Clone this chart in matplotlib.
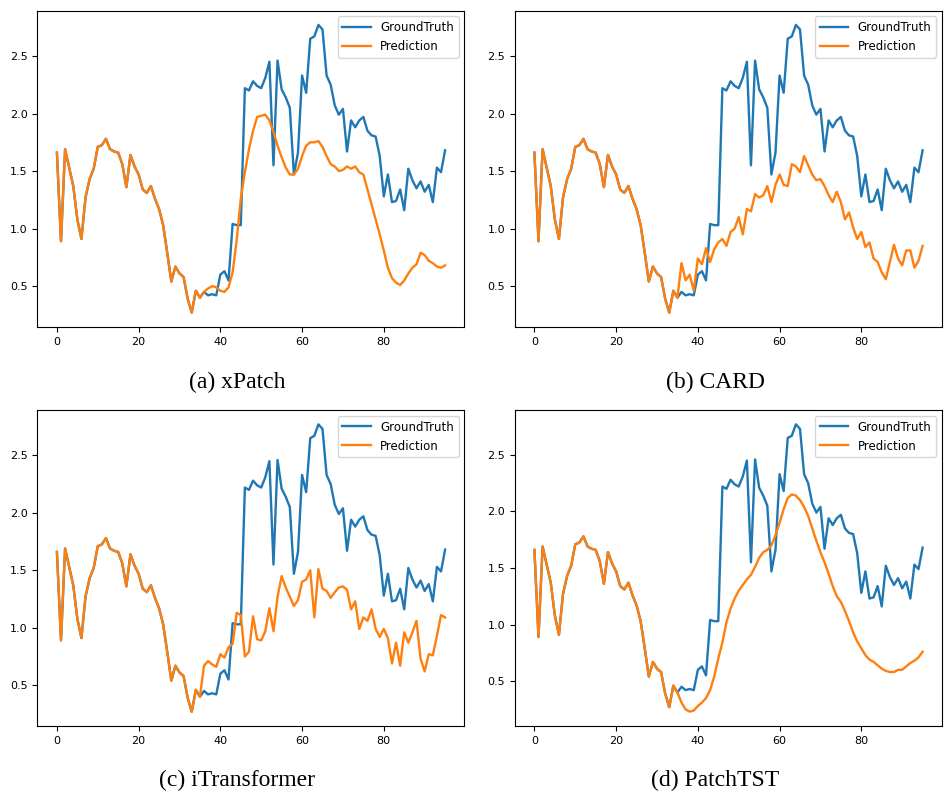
import matplotlib
matplotlib.use("Agg")
import matplotlib.pyplot as plt
import numpy as np

ground_truth = [1.66, 0.89, 1.69, 1.53, 1.37, 1.08, 0.91, 1.27, 1.43, 1.52,
                1.71, 1.725, 1.78, 1.69, 1.67, 1.66, 1.56, 1.36, 1.64, 1.54,
                1.47, 1.34, 1.31, 1.37, 1.26, 1.17, 1.03, 0.79, 0.54, 0.67,
                0.61, 0.58, 0.39, 0.27, 0.46, 0.40, 0.45, 0.42, 0.43, 0.42,
                0.60, 0.63, 0.55, 1.04, 1.03, 1.03, 2.22, 2.20, 2.28, 2.24,
                2.22, 2.31, 2.45, 1.55, 2.46, 2.21, 2.14, 2.05, 1.47, 1.66,
                2.33, 2.18, 2.65, 2.67, 2.77, 2.73, 2.33, 2.25, 2.07, 1.99,
                2.04, 1.67, 1.94, 1.88, 1.94, 1.97, 1.85, 1.81, 1.80, 1.63,
                1.28, 1.47, 1.23, 1.24, 1.34, 1.16, 1.52, 1.42, 1.35, 1.41,
                1.32, 1.38, 1.23, 1.53, 1.49, 1.68]

shared_head = ground_truth[:35]

pred_xpatch_tail = [0.40, 0.45, 0.48, 0.50, 0.49, 0.46, 0.45, 0.49, 0.62, 0.90,
                    1.26, 1.49, 1.69, 1.85, 1.97, 1.98, 1.99, 1.94, 1.84, 1.72,
                    1.62, 1.53, 1.47, 1.47, 1.52, 1.63, 1.72, 1.75, 1.75, 1.76,
                    1.71, 1.63, 1.56, 1.54, 1.50, 1.51, 1.54, 1.52, 1.54, 1.49,
                    1.47, 1.34, 1.21, 1.08, 0.95, 0.81, 0.66, 0.57, 0.53, 0.51,
                    0.55, 0.61, 0.66, 0.69, 0.79, 0.77, 0.72, 0.70, 0.67, 0.66,
                    0.68]

pred_card_tail = [0.40, 0.70, 0.55, 0.60, 0.46, 0.74, 0.69, 0.83, 0.71, 0.82,
                  0.88, 0.91, 0.85, 0.97, 1.00, 1.10, 0.95, 1.17, 1.15, 1.30,
                  1.27, 1.29, 1.37, 1.23, 1.38, 1.47, 1.38, 1.37, 1.56, 1.54,
                  1.49, 1.63, 1.55, 1.47, 1.42, 1.43, 1.37, 1.29, 1.23, 1.32,
                  1.23, 1.08, 1.14, 1.01, 0.91, 0.97, 0.84, 0.88, 0.74, 0.71,
                  0.62, 0.56, 0.71, 0.86, 0.74, 0.68, 0.81, 0.81, 0.66, 0.72,
                  0.85]

pred_itrans_tail = [0.40, 0.67, 0.71, 0.68, 0.66, 0.77, 0.74, 0.83, 0.86, 1.13,
                    1.11, 0.75, 0.79, 1.10, 0.90, 0.89, 0.97, 1.17, 0.97, 1.27,
                    1.45, 1.35, 1.27, 1.19, 1.24, 1.40, 1.42, 1.50, 1.09, 1.51,
                    1.34, 1.32, 1.26, 1.31, 1.35, 1.36, 1.33, 1.16, 1.23, 0.99,
                    1.09, 1.06, 1.16, 0.99, 0.92, 0.99, 0.91, 0.69, 0.87, 0.67,
                    0.96, 0.87, 0.96, 1.06, 0.73, 0.62, 0.77, 0.76, 0.93, 1.11,
                    1.09]

pred_patchtst_tail = [0.40, 0.31, 0.25, 0.23, 0.24, 0.28, 0.31, 0.35, 0.42, 0.54,
                      0.70, 0.84, 1.02, 1.14, 1.23, 1.30, 1.35, 1.40, 1.44, 1.51,
                      1.59, 1.64, 1.66, 1.70, 1.79, 1.90, 2.02, 2.12, 2.15, 2.14,
                      2.10, 2.04, 1.96, 1.85, 1.74, 1.64, 1.55, 1.45, 1.34, 1.25,
                      1.20, 1.12, 1.03, 0.93, 0.85, 0.79, 0.73, 0.69, 0.67, 0.64,
                      0.61, 0.59, 0.58, 0.58, 0.60, 0.60, 0.63, 0.66, 0.68, 0.71,
                      0.76]

predictions = [shared_head + pred_xpatch_tail,
               shared_head + pred_card_tail,
               shared_head + pred_itrans_tail,
               shared_head + pred_patchtst_tail]
captions = ["(a) xPatch", "(b) CARD", "(c) iTransformer", "(d) PatchTST"]

W, H = 945, 798
fig = plt.figure(figsize=(W / 100, H / 100), dpi=100)

# axes boxes in pixels: left, top, right, bottom
boxes = [(37.5, 10.5, 464.5, 327), (515, 10.5, 942, 327),
         (37.5, 410, 464.5, 726), (515, 410, 942, 726)]
cap_pos = [(237.5, 382), (715.5, 382), (237.5, 780), (715.5, 780)]

x = np.arange(len(ground_truth))
for k in range(4):
    l, t, r, b = boxes[k]
    ax = fig.add_axes([l / W, 1 - b / H, (r - l) / W, (b - t) / H])
    ax.plot(x, ground_truth, color="#1f77b4", lw=1.7, label="GroundTruth")
    ax.plot(x, predictions[k], color="#ff7f0e", lw=1.7, label="Prediction")
    ax.set_xticks([0, 20, 40, 60, 80])
    ax.set_yticks([0.5, 1.0, 1.5, 2.0, 2.5])
    ax.tick_params(labelsize=8)
    ax.legend(loc="upper right", fontsize=8.5, handlelength=2.4)
    cx, cy = cap_pos[k]
    fig.text(cx / W, 1 - cy / H, captions[k], ha="center", va="center",
             family="Liberation Serif", fontsize=17)

fig.savefig("out.png", dpi=100)
